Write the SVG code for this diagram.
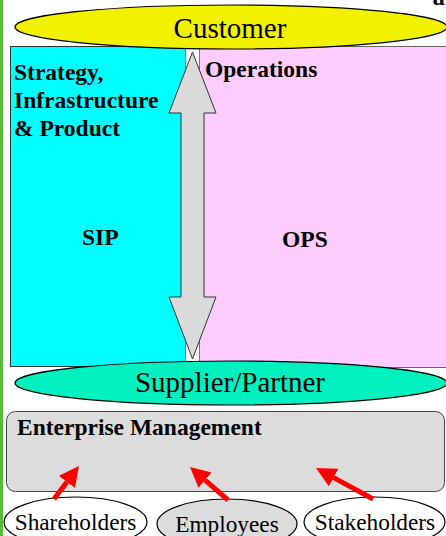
<svg xmlns="http://www.w3.org/2000/svg" width="446" height="536" viewBox="0 0 446 536">
<style>
.b{font-family:"Liberation Serif","Times New Roman",serif;font-weight:bold;font-size:23.5px;fill:#000}
.r{font-family:"Liberation Serif","Times New Roman",serif;font-size:29px;fill:#000}
.s{font-family:"Liberation Serif","Times New Roman",serif;font-size:23.3px;fill:#000}
.ol{stroke:#000;stroke-width:1.2}
.red{stroke:#ff0000;stroke-width:5;fill:none}
</style>
<defs>
<marker id="rh" viewBox="0 0 20 20" refX="0" refY="10" markerWidth="20" markerHeight="20" markerUnits="userSpaceOnUse" orient="auto">
<path d="M0,0 L20,10 L0,20 Z" fill="#ff0000"/>
</marker>
</defs>
<rect x="0" y="0" width="446" height="536" fill="#fff"/>
<rect x="0" y="0" width="3" height="536" fill="#55bb33"/>
<text class="b" x="432" y="5">u</text>
<g id="sip">
<rect x="10.5" y="46.5" width="175" height="320" fill="#00ffff" stroke="#333" stroke-width="1"/>
<text class="b" x="14" y="80">Strategy,</text>
<text class="b" x="14" y="108">Infrastructure</text>
<text class="b" x="14" y="136">&amp; Product</text>
<text class="b" x="82" y="245">SIP</text>
</g>
<g id="ops">
<rect x="199.5" y="46.5" width="250" height="321" fill="#ffccff" stroke="#666" stroke-width="1"/>
<text class="b" x="205" y="77">Operations</text>
<text class="b" x="282" y="247">OPS</text>
</g>
<g id="gap">
<rect x="185.5" y="46.5" width="14" height="320" fill="#fff" stroke="#777" stroke-width="1"/>
</g>
<g id="customer">
<ellipse cx="231" cy="27" rx="216" ry="22" fill="#f2f200" class="ol"/>
<text class="r" x="230" y="38" text-anchor="middle">Customer</text>
</g>
<g id="supplier">
<ellipse cx="231" cy="383" rx="216" ry="22" fill="#00f0c0" class="ol"/>
<text class="r" x="230" y="392" text-anchor="middle">Supplier/Partner</text>
</g>
<g id="enterprise">
<rect x="6.5" y="411.5" width="438" height="80" rx="9" fill="#dcdcdc" stroke="#444" stroke-width="1"/>
<text class="b" x="17" y="435">Enterprise Management</text>
</g>
<g id="shareholders">
<ellipse cx="75.5" cy="522" rx="71.5" ry="25" fill="#fff" class="ol"/>
<text class="s" x="75.5" y="530" text-anchor="middle">Shareholders</text>
</g>
<g id="employees">
<ellipse cx="227" cy="524" rx="70" ry="25" fill="#dcdcdc" class="ol"/>
<text class="s" x="227" y="532" text-anchor="middle">Employees</text>
</g>
<g id="stakeholders">
<ellipse cx="374.5" cy="522" rx="70.5" ry="25" fill="#fff" class="ol"/>
<text class="s" x="375" y="530" text-anchor="middle">Stakeholders</text>
</g>
<g id="connectors">
<polygon points="192.5,52 216,113 204,113 204,297 216,297 192.5,359 169,297 181,297 181,113 169,113" fill="#dadada" stroke="#333" stroke-width="1"/>
<line class="red" x1="54" y1="499" x2="66.9" y2="481.9" marker-end="url(#rh)"/>
<line class="red" x1="228" y1="500" x2="205.1" y2="480.1" marker-end="url(#rh)"/>
<line class="red" x1="373" y1="499" x2="333.6" y2="477.6" marker-end="url(#rh)"/>
</g>
</svg>
